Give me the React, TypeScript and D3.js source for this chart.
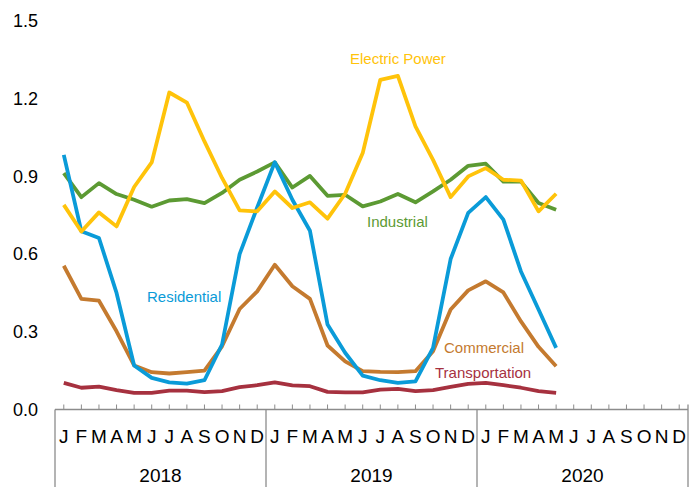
import * as d3 from "d3";

// month initials for the three years shown on the axis
const monthLetters = ["J", "F", "M", "A", "M", "J", "J", "A", "S", "O", "N", "D"];
const years = ["2018", "2019", "2020"];
const yTicks = [0, 0.3, 0.6, 0.9, 1.2, 1.5];

// Jan 2018 .. May 2020 (29 months)
const electricPower = [
  0.79, 0.687, 0.761, 0.707, 0.859, 0.954, 1.224, 1.185, 1.035, 0.894, 0.769, 0.765,
  0.842, 0.778, 0.8, 0.737, 0.833, 0.99, 1.273, 1.288, 1.093, 0.964, 0.82, 0.9,
  0.932, 0.887, 0.884, 0.765, 0.833,
];
const industrial = [
  0.913, 0.82, 0.874, 0.832, 0.81, 0.783, 0.807, 0.812, 0.797, 0.836, 0.887, 0.919,
  0.954, 0.857, 0.902, 0.825, 0.829, 0.784, 0.803, 0.832, 0.8, 0.842, 0.887, 0.941,
  0.949, 0.88, 0.88, 0.797, 0.771,
];
const residential = [
  0.983, 0.688, 0.662, 0.45, 0.17, 0.122, 0.105, 0.1, 0.113, 0.251, 0.6, 0.78,
  0.955, 0.81, 0.69, 0.328, 0.219, 0.131, 0.113, 0.103, 0.109, 0.238, 0.581, 0.759,
  0.82, 0.733, 0.533, 0.386, 0.238,
];
const commercial = [
  0.555, 0.427, 0.42, 0.302, 0.17, 0.144, 0.139, 0.144, 0.15, 0.244, 0.388, 0.456,
  0.559, 0.476, 0.427, 0.247, 0.186, 0.148, 0.145, 0.144, 0.148, 0.225, 0.386, 0.46,
  0.495, 0.452, 0.34, 0.242, 0.167,
];
const transportation = [
  0.103, 0.084, 0.088, 0.075, 0.064, 0.064, 0.073, 0.073, 0.067, 0.071, 0.086, 0.094,
  0.105, 0.093, 0.09, 0.068, 0.066, 0.066, 0.077, 0.08, 0.071, 0.075, 0.087, 0.099,
  0.103, 0.094, 0.084, 0.071, 0.064,
];

const W = 696;
const H = 487;
const left = 55;
const right = 688;
const axisY = 409.5;
const font = "'Liberation Sans', Arial, sans-serif";

const series = [
  { name: "Transportation", values: transportation, color: "#A6313F", lx: 435, ly: 378 },
  { name: "Commercial", values: commercial, color: "#C47A2F", lx: 444, ly: 353 },
  { name: "Industrial", values: industrial, color: "#5C9A33", lx: 367, ly: 227 },
  { name: "Residential", values: residential, color: "#0A9BD8", lx: 147, ly: 302 },
  { name: "Electric Power", values: electricPower, color: "#FFC30A", lx: 350, ly: 64 },
];

export default function App() {
  const months = d3.range(years.length * 12);
  const x = d3.scaleBand<number>().domain(months).range([left, right]);
  const y = d3.scaleLinear().domain([0, 1.5]).range([axisY, 21]);
  const cx = (i: number) => (x(i) ?? 0) + x.bandwidth() / 2;

  const line = d3
    .line<number>()
    .x((_, i) => cx(i))
    .y((d) => y(d));

  return (
    <svg
      width={W}
      height={H}
      style={{ position: "absolute", left: 0, top: 0, background: "#fff" }}
      fontFamily={font}
    >
      {/* y tick labels */}
      {yTicks.map((t) => (
        <text
          key={t}
          x={38}
          y={y(t)}
          dy="0.35em"
          textAnchor="end"
          fontSize={18}
          fill="#000"
        >
          {t.toFixed(1)}
        </text>
      ))}

      {/* x axis */}
      <line x1={left} x2={right} y1={axisY} y2={axisY} stroke="#8c8c8c" strokeWidth={1.3} />
      {months.map((m) => (
        <line
          key={m}
          x1={cx(m)}
          x2={cx(m)}
          y1={axisY - 5}
          y2={axisY}
          stroke="#8c8c8c"
          strokeWidth={1}
        />
      ))}
      {d3.range(years.length + 1).map((k) => {
        const xx = k === years.length ? right : x(k * 12) ?? 0;
        return (
          <line
            key={k}
            x1={xx}
            x2={xx}
            y1={k === years.length ? axisY - 5 : axisY}
            y2={H}
            stroke="#8c8c8c"
            strokeWidth={1.3}
          />
        );
      })}
      {months.map((m) => (
        <text
          key={m}
          x={cx(m)}
          y={443}
          textAnchor="middle"
          fontSize={19}
          fill="#000"
        >
          {monthLetters[m % 12]}
        </text>
      ))}
      {years.map((yr, k) => (
        <text
          key={yr}
          x={((x(k * 12) ?? 0) + (k === years.length - 1 ? right : x((k + 1) * 12) ?? 0)) / 2}
          y={482}
          textAnchor="middle"
          fontSize={19}
          fill="#000"
        >
          {yr}
        </text>
      ))}

      {/* series */}
      {series.map((s) => (
        <path
          key={s.name}
          d={line(s.values) ?? ""}
          fill="none"
          stroke={s.color}
          strokeWidth={3.8}
          strokeLinejoin="round"
        />
      ))}
      {series.map((s) => (
        <text key={s.name} x={s.lx} y={s.ly} fontSize={15} fill={s.color}>
          {s.name}
        </text>
      ))}
    </svg>
  );
}
